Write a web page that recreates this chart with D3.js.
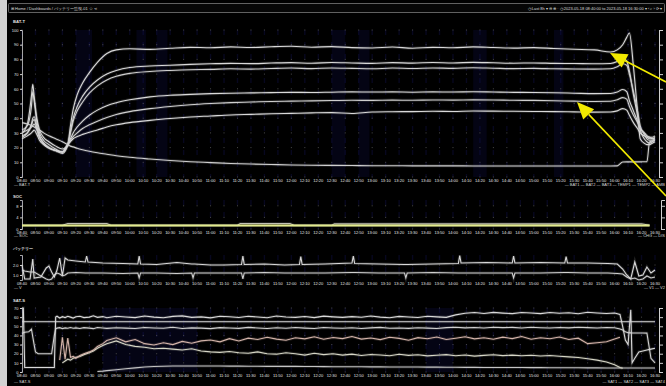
<!DOCTYPE html>
<html>
<head>
<meta charset="utf-8">
<script src="https://cdn.jsdelivr.net/npm/d3@7"></script>
<style>
  html, body { margin: 0; padding: 0; background: #000; }
  svg { display: block; font-family: "Liberation Sans", Arial, sans-serif; }
</style>
</head>
<body>
<svg id="chart" width="666" height="386"></svg>
<script>
// ---- data (minutes after 08:40) ----
const p1Time = [0, 4, 7, 8, 9, 11, 13, 16, 20, 25,
  30, 34, 36, 38, 41, 45, 50, 56, 63, 70,
  80, 95, 110, 125, 140, 155, 170, 185, 200, 215,
  230, 245, 260, 275, 290, 305, 320, 335, 350, 365,
  380, 395, 410, 425, 437, 442, 446, 449, 451, 454,
  457, 459, 462, 464, 466, 468, 470];
const bat1 = [30, 36, 55, 63, 55, 40, 32, 27, 24, 21,
  19, 22, 35, 46, 56, 64, 71, 78, 84, 86.5,
  87.2, 86.8, 87.6, 88.2, 87.9, 88.5, 88.1, 88.6, 88.9, 88.3,
  88.7, 88.0, 87.8, 88.4, 87.6, 88.2, 87.9, 88.5, 88.1, 87.7,
  88.0, 87.4, 86.9, 86.5, 85.0, 86.5, 90, 95, 98, 75,
  45, 26, 23, 22, 22, 23, 24];
const bat2 = [32, 35, 48, 58, 52, 38, 30, 25, 22, 19,
  17, 22, 31, 40, 48, 55, 61, 66, 70, 72.5,
  74.5, 75.5, 76, 76.6, 77, 77.3, 77.1, 77.5, 77.8, 77.4,
  77.9, 77.6, 77.3, 77.8, 77.5, 77.9, 77.6, 78, 77.7, 77.4,
  77.6, 77.3, 77.2, 77, 77.2, 78.5, 80.5, 79, 72, 56,
  42, 32, 26, 24, 23, 24, 25];
const bat3 = [27, 30, 36, 40, 41, 35, 28, 23, 20, 18,
  16, 22, 30, 38, 45, 51, 57, 62, 66, 68.5,
  70.5, 71.8, 72.5, 73, 73.2, 73.6, 73.4, 73.8, 74.1, 73.7,
  74.2, 73.9, 73.6, 74.1, 73.8, 74.2, 73.9, 74.3, 74, 73.7,
  73.9, 73.6, 73.5, 73.4, 73.6, 75, 77, 76, 70, 58,
  45, 35, 29, 26, 25, 25, 26];
const temp1 = [28, 30, 35, 38, 39, 33, 27, 23, 20, 18,
  17, 22, 26, 30, 34, 38, 42, 45.5, 48.5, 50.5,
  52.5, 54.5, 55.6, 56.2, 56.7, 57, 57.2, 57.4, 57.6, 57.5,
  57.7, 57.9, 57.8, 57.9, 57.7, 57.9, 57.8, 58, 57.8, 57.6,
  57.5, 57.3, 57, 56.7, 56.8, 57.8, 59.5, 58, 52, 45,
  38, 33, 30, 28, 27, 27, 28];
const temp2 = [30, 32, 34, 35, 36, 32, 27, 23, 20, 18,
  17, 22, 25, 27.5, 30, 33, 35.5, 38, 40.5, 42.5,
  44.5, 46.5, 48, 49.2, 50, 50.6, 51, 51.4, 51.6, 51.8,
  52, 52.2, 52.1, 52.3, 52.2, 52.4, 52.3, 52.5, 52.4, 52.2,
  52.1, 51.9, 51.6, 51.4, 51.5, 52.5, 54, 53, 48, 42,
  37, 33, 30, 28, 27, 26, 26];
const temp3 = [26, 28, 30, 31, 32, 29, 25, 22, 19.5, 18,
  17, 22, 24, 26, 27.5, 29, 30.5, 32, 34, 35.5,
  37, 38.5, 39.8, 40.8, 41.5, 42.2, 42.6, 43, 43.3, 43.6,
  43.8, 43.2, 44.2, 44.4, 44.5, 44.7, 44.6, 44.9, 44.8, 44.7,
  44.6, 44.5, 44.3, 44.1, 44.2, 45, 46.5, 45.5, 42, 37,
  33, 30, 28, 27, 26, 26, 27];
const ambient = [37, 36, 35, 34.5, 34, 33, 32, 30, 28, 26,
  24, 22, 21, 20.5, 19.5, 18.5, 17.5, 16.5, 15.5, 14.5,
  13.4, 12.2, 11.2, 10.4, 9.8, 9.2, 8.8, 8.5, 8.2, 8,
  7.9, 7.8, 7.7, 7.7, 7.6, 7.6, 7.6, 7.5, 7.5, 7.5,
  7.5, 7.5, 7.5, 7.5, 7.5, 7.6, 10.2, 10.3, 10.3, 10.3,
  10.3, 10.3, 10.4, 10.4, 24, 24.5, 25];

const p2Time = [0, 30, 34, 63, 66, 160, 162, 199, 202, 230, 232, 300, 350, 400, 460, 466];
const socA = [1.2, 1.2, 1.2, 1.2, 1.2, 1.2, 1.2, 1.2, 1.2, 1.2, 1.2, 1.2, 1.2, 1.2, 1.2, 1.2];
const socB = [1.3, 1.3, 1.9, 1.9, 1.3, 1.3, 1.9, 1.9, 1.3, 1.3, 1.8, 1.8, 1.8, 1.8, 1.8, 1.3];

const p3Time = [0, 2, 6, 8, 9, 14, 18, 20, 22, 24,
  26, 28, 30, 32, 34, 40, 47, 48, 49, 60,
  75, 86, 87, 88, 100, 115, 126, 127, 128, 140,
  150, 163, 164, 165, 180, 195, 206, 207, 208, 225,
  245, 246, 247, 265, 284, 285, 286, 305, 324, 325,
  326, 345, 364, 365, 366, 385, 403, 404, 405, 420,
  435, 442, 446, 449, 452, 455, 458, 461, 464, 467,
  470];
const voltU = [2.0, 0.6, 0.6, 2.6, 0.7, 0.8, 1.7, 1.9, 1.3, 0.8,
  1.5, 2.7, 0.9, 2.7, 2.5, 2.4, 2.3, 2.9, 2.3, 2.2,
  2.15, 2.1, 2.9, 2.1, 2.05, 2.25, 2.1, 2.1, 2.1, 2.0,
  2.0, 2.05, 2.9, 2.05, 2.1, 2.0, 2.05, 2.85, 2.05, 2.1,
  2.2, 2.9, 2.15, 2.1, 2.05, 2.05, 2.05, 2.1, 2.15, 2.95,
  2.2, 2.25, 2.2, 2.9, 2.2, 2.25, 2.2, 2.85, 2.2, 2.2,
  2.15, 2.1, 1.6, 1.0, 0.6, 2.3, 0.9, 1.0, 1.8, 1.2,
  1.5];
const voltL = [1.5, 1.4, 1.3, 1.3, 1.3, 0.9, 0.6, 0.5, 0.6, 1.0,
  1.2, 1.1, 0.9, 1.0, 1.2, 1.25, 1.2, 1.2, 1.2, 1.2,
  1.15, 1.2, 0.7, 1.2, 1.2, 1.15, 1.2, 0.7, 1.2, 1.2,
  1.2, 1.2, 0.6, 1.2, 1.25, 1.2, 1.2, 1.2, 1.2, 1.2,
  1.25, 1.25, 1.25, 1.2, 1.2, 0.7, 1.2, 1.25, 1.2, 1.2,
  1.2, 1.2, 1.2, 0.7, 1.2, 1.2, 1.25, 1.25, 1.25, 1.2,
  1.2, 1.15, 1.1, 0.8, 0.6, 0.7, 0.5, 0.6, 0.9, 0.7,
  0.8];

const p4Time = [0, 1, 2, 5, 7, 9, 10, 12, 15, 18,
  22, 24, 25, 26, 28, 30, 32, 34, 36, 38,
  40, 43, 46, 50, 53, 56, 60, 63, 70, 77,
  84, 91, 98, 105, 112, 119, 126, 133, 140, 147,
  154, 161, 168, 175, 182, 189, 196, 203, 210, 217,
  224, 231, 238, 245, 252, 259, 266, 273, 280, 287,
  294, 301, 308, 315, 322, 329, 336, 343, 350, 357,
  364, 371, 378, 385, 392, 399, 406, 413, 420, 427,
  434, 440, 444, 446, 448, 450, 452, 453, 455, 458,
  461, 464, 467, 470];
const sat1 = [70, 70, 5, 5, 5, 5, 5, 5, 5, 5,
  5, 5, 60, 61, 59, 60.5, 59.5, 61, 60, 59,
  60.5, 61, 59.5, 60, 61.5, 59.8, 60.6, 59.4, 61, 60.2,
  59.5, 61.2, 60, 59.3, 60.8, 61.4, 59.7, 60.3, 59.2, 61,
  60.4, 59.6, 60.9, 60.1, 59.4, 61.3, 60.2, 59.8, 60.7, 59.5,
  61.1, 60.3, 59.7, 60.6, 59.9, 61.2, 60, 59.4, 60.8, 60.2,
  59.6, 61, 60.3, 59.8, 62.5, 64.3, 65, 64, 65.2, 64.4,
  63.8, 65.1, 64.5, 63.9, 65, 64.2, 64.8, 63.7, 65.3, 64.6,
  64, 64.5, 63, 50, 35, 30, 68, 10, 15, 22,
  23, 24, 25, 26];
const sat2 = [42, 43, 43.5, 44, 47, 30, 22, 20, 20, 20,
  20, 40, 47, 48, 48.5, 47.5, 48.2, 47.8, 48.6, 47.9,
  48.3, 47.6, 48.5, 48, 47.4, 48.7, 48.1, 47.7, 48.4, 48,
  47.5, 48.6, 48.2, 47.8, 48.9, 47.6, 48.3, 48, 47.4, 48.5,
  48.1, 47.7, 48.8, 48.2, 47.6, 48.4, 47.9, 48.6, 48, 47.5,
  48.7, 48.2, 47.8, 48.4, 47.6, 48.3, 48.8, 47.9, 48.2, 47.7,
  48.4, 48, 47.6, 48.5, 48.9, 48.3, 48.7, 48.1, 49, 48.5,
  48.8, 48.2, 48.9, 48.4, 48.1, 48.7, 48.3, 48.9, 48.5, 48.2,
  48.6, 48.4, 47, 46, 44, 43, 42.8, 42.7, 42.7, 42.6,
  42.6, 42.5, 15, 10];
const sat3 = [null, null, null, null, null, null, null, null, null, null,
  null, null, null, null, 13, 38, 14, 37, 16, 17,
  15, 18, 20, 22, 24, 28, 31, 34.5, 37.5, 33,
  35.5, 31, 29.5, 32, 30, 33.5, 31.5, 34, 35, 33,
  36.5, 34, 37, 35.5, 38, 36, 34.8, 37.5, 36.2, 38.5,
  35.8, 37.8, 36.5, 38.8, 36, 37.2, 35.4, 38, 36.8, 34.8,
  37.6, 36.4, 38.3, 35.6, 37, 38.6, 36.2, 37.4, 35.8, 38.1,
  36.5, 38.8, 35.9, 37.5, 36.3, 38.2, 35.5, 37, 31, 32,
  33, 36, 38, null, null, null, null, null, null, null,
  null, null, null, null];
const sat4 = [null, null, null, null, null, null, null, null, null, null,
  null, null, null, null, null, 10, 12, 14, 13, 15,
  16, 17, 19, 21, 23, 26, 29, 31, 34, 30,
  28, 27, 25.5, 26, 25, 24, 25.5, 23, 22, 21.5,
  22.5, 21, 20.5, 22, 20, 19.5, 21, 20, 18.5, 20.5,
  19, 20, 18.5, 19.5, 18, 19.2, 18.6, 17.8, 19.4, 18.2,
  18.8, 17.6, 18.4, 19, 17.8, 18.6, 17.4, 18.2, 18.9, 17.9,
  18.5, 17.7, 18.3, 17.5, 18.1, 17.3, 16.5, 15.8, 14.5, 13,
  11, 8, 5, 4, null, null, null, null, null, null,
  null, null, null, null];
const sat5 = [null, null, null, null, null, null, null, null, null, null,
  null, null, null, null, null, null, null, null, null, null,
  null, null, null, null, null, 0.5, 1, 1.5, 2.5, 3.5,
  4.5, 5.5, 6, 6.3, 6.5, 6.6, 6.5, 6.6, 6.5, 6.5,
  6.4, 6.4, 6.3, 6.3, 6.2, 6.2, 6.1, 6.1, 6, 6,
  5.9, 5.8, 5.8, 5.7, 5.7, 5.6, 5.6, 5.5, 5.5, 5.4,
  5.4, 5.3, 5.3, 5.2, 5.2, 5.1, 5.1, 5, 5, 5,
  4.9, 4.9, 4.8, 4.8, 4.7, 4.7, 4.6, 4.6, 4.5, 4.5,
  4.4, 4.4, 4.3, 4.3, 4.3, 4.3, 4.3, 4.3, 4.3, 4.3,
  4.3, 4.3, 4.3, 4.3];
const satLimit = [55, 55];
const satLimitTime = [0, 470];

// faint navy shading bands (minutes)
const shadeBands = [[40, 52], [85, 92], [100, 108], [230, 240], [250, 258], [335, 345], [395, 402]];

const headerLeft = "⊞  Home / Dashboards / バッテリー監視-01  ☆  ⋖";
const headerRight = "◷ Last 8h ▾   ⊖   ⊕   ·   ◷ 2023-05-18 08:40:00 to 2023-05-18 16:30:00 ▾   ‹   ⌕   ›   ⟳ ▾";

// ---- scales ----
const t0 = new Date(2023, 4, 18, 8, 40);
const tm = m => new Date(t0.getTime() + m * 60000);
const x = d3.scaleTime().domain([tm(0), tm(470)]).range([22, 655]);
const xTicks = x.ticks(d3.timeMinute.every(10));
const fmt = d3.timeFormat("%H:%M");

const svg = d3.select("#chart");
svg.append("rect").attr("width", 666).attr("height", 386).attr("fill", "#000");
svg.append("rect").attr("width", 7).attr("height", 386).attr("fill", "#d2d2d2");

// header bar
svg.append("rect").attr("x", 8.5).attr("y", 3.5).attr("width", 656).attr("height", 9)
  .attr("fill", "#060606").attr("stroke", "#7a7a7a").attr("stroke-width", 0.8).attr("rx", 1);
svg.append("text").attr("x", 11).attr("y", 9.5).attr("font-size", 4).attr("fill", "#ddd").text(headerLeft);
svg.append("text").attr("x", 662).attr("y", 9.5).attr("font-size", 4).attr("fill", "#ddd")
  .attr("text-anchor", "end").text(headerRight);

function panel(cfg) {
  const y = d3.scaleLinear().domain(cfg.yDomain).range([cfg.bottom, cfg.top]);
  const g = svg.append("g");

  // shading
  g.selectAll(".band").data(cfg.bands || []).join("rect")
    .attr("x", d => x(tm(d[0]))).attr("width", d => x(tm(d[1])) - x(tm(d[0])))
    .attr("y", cfg.top).attr("height", cfg.bottom - cfg.top)
    .attr("fill", "#0a0a32").attr("opacity", 0.4);
  g.selectAll(".vstripe").data(xTicks).join("line")
    .attr("x1", d => x(d)).attr("x2", d => x(d))
    .attr("y1", cfg.top).attr("y2", cfg.bottom)
    .attr("stroke", "#15155a").attr("stroke-width", 1.4).attr("stroke-opacity", 0.35)
    .attr("stroke-dasharray", "5,7");

  // grid dots
  const dots = [];
  xTicks.forEach(t => cfg.yTicks.forEach(v => dots.push([t, v])));
  g.selectAll(".dot").data(dots).join("rect")
    .attr("x", d => x(d[0]) - 0.5).attr("y", d => y(d[1]) - 0.5)
    .attr("width", 1).attr("height", 1).attr("fill", "#4a4a4a");

  // axes
  const ay = g.append("g").attr("transform", "translate(22,0)")
    .call(d3.axisLeft(y).tickValues(cfg.yTicks).tickSize(2).tickPadding(1.5));
  ay.select(".domain").attr("stroke", "#cfcfcf").attr("stroke-width", 0.8);
  ay.selectAll(".tick line").attr("stroke", "#cfcfcf");
  ay.selectAll("text").attr("fill", "#e0e0e0").attr("font-size", 4).attr("font-family", null);

  if (cfg.rightAxis) {
    const ar = g.append("g").attr("transform", `translate(${cfg.rightAxis},0)`)
      .call(d3.axisRight(y).tickValues(cfg.yTicks).tickSize(4).tickFormat(""));
    ar.select(".domain").attr("stroke", "#cfcfcf").attr("stroke-width", 1);
    ar.selectAll(".tick line").attr("stroke", "#cfcfcf");
  }

  g.selectAll(".xl").data(xTicks).join("text")
    .attr("x", d => x(d)).attr("y", cfg.bottom + 4.5)
    .attr("text-anchor", "middle").attr("font-size", 4).attr("fill", "#e6e6e6")
    .text(d => fmt(d));

  // series
  cfg.series.forEach(s => {
    const data = s.time.map((t, i) => [tm(t), s.values[i]]);
    const line = d3.line().defined(d => d[1] != null)
      .x(d => x(d[0])).y(d => y(d[1])).curve(s.curve || d3.curveLinear);
    g.append("path").datum(data).attr("d", line).attr("fill", "none")
      .attr("stroke", s.color).attr("stroke-width", 3).attr("stroke-opacity", 0.15);
    g.append("path").datum(data).attr("d", line).attr("fill", "none")
      .attr("stroke", s.color).attr("stroke-width", s.width || 1.1);
  });

  // title + legends
  svg.append("text").attr("x", 13).attr("y", cfg.titleY).attr("font-size", 4.2)
    .attr("font-weight", "bold").attr("fill", "#e0e0e0").text(cfg.title);
  svg.append("text").attr("x", 14).attr("y", cfg.legendY).attr("font-size", 4)
    .attr("fill", "#d6d6d6").text(cfg.legendLeft);
  if (cfg.legendRight) {
    svg.append("text").attr("x", 665).attr("y", cfg.legendY).attr("font-size", 4)
      .attr("text-anchor", "end").attr("fill", "#d6d6d6").text(cfg.legendRight);
  }
  return y;
}

const white = "#d9d9d9";

panel({
  top: 30, bottom: 177, yDomain: [0, 100], yTicks: d3.range(0, 101, 10),
  rightAxis: 659, bands: shadeBands, titleY: 23, legendY: 186,
  title: "BAT-T", legendLeft: "— BAT-T",
  legendRight: "— BAT1  — BAT2  — BAT3  — TEMP1  — TEMP2  — AMB",
  series: [
    { time: p1Time, values: bat1, color: white, curve: d3.curveMonotoneX },
    { time: p1Time, values: bat2, color: white, curve: d3.curveMonotoneX },
    { time: p1Time, values: bat3, color: "#cfcfcf", curve: d3.curveMonotoneX },
    { time: p1Time, values: temp1, color: white, curve: d3.curveMonotoneX },
    { time: p1Time, values: temp2, color: "#cfcfcf", curve: d3.curveMonotoneX },
    { time: p1Time, values: temp3, color: white, curve: d3.curveMonotoneX },
    { time: p1Time, values: ambient, color: "#cfcfcf", curve: d3.curveMonotoneX }
  ]
});

panel({
  top: 200, bottom: 229, yDomain: [0, 10], yTicks: [0, 4, 8],
  rightAxis: 661, bands: [], titleY: 198, legendY: 237,
  title: "SOC", legendLeft: "— SOC", legendRight: "— CHG  — DIS",
  series: [
    { time: p2Time, values: socB, color: "#c0c0b4", width: 1.2 },
    { time: p2Time, values: socA, color: "#e2ea8e", width: 2.2 }
  ]
});

panel({
  top: 255, bottom: 280, yDomain: [0.5, 3], yTicks: [1, 2],
  rightAxis: null, bands: [], titleY: 250, legendY: 289,
  title: "バッテリー", legendLeft: "— V", legendRight: "— V1  — V2",
  series: [
    { time: p3Time, values: voltL, color: "#cfcfcf" },
    { time: p3Time, values: voltU, color: white }
  ]
});

panel({
  top: 308, bottom: 372, yDomain: [0, 70], yTicks: d3.range(0, 71, 10),
  rightAxis: 659, bands: [[60, 130], [300, 320]], titleY: 302, legendY: 383,
  title: "SAT-S", legendLeft: "— SAT-S", legendRight: "— SAT1  — SAT2  — SAT3  — SAT4",
  series: [
    { time: satLimitTime, values: satLimit, color: "#cfcfcf", width: 1 },
    { time: p4Time, values: sat5, color: "#c4c4c4" },
    { time: p4Time, values: sat4, color: "#d6d6c6" },
    { time: p4Time, values: sat3, color: "#d4b4aa" },
    { time: p4Time, values: sat2, color: "#d0d0d0" },
    { time: p4Time, values: sat1, color: white }
  ]
});

// annotation arrows
const arrows = [
  { from: [666, 82], to: [610, 53] },
  { from: [666, 196], to: [577, 102] }
];
arrows.forEach(a => {
  const [x1, y1] = a.from, [x2, y2] = a.to;
  const ang = Math.atan2(y1 - y2, x1 - x2);
  const len = 17, half = 7.5;
  const bx = x2 + Math.cos(ang) * len, by = y2 + Math.sin(ang) * len;
  const px = -Math.sin(ang) * half, py = Math.cos(ang) * half;
  svg.append("line").attr("x1", x1).attr("y1", y1).attr("x2", bx).attr("y2", by)
    .attr("stroke", "#f2ea00").attr("stroke-width", 1.6);
  svg.append("path").attr("d", `M${x2},${y2}L${bx + px},${by + py}L${bx - px},${by - py}Z`)
    .attr("fill", "#f2ea00");
});
</script>
</body>
</html>
